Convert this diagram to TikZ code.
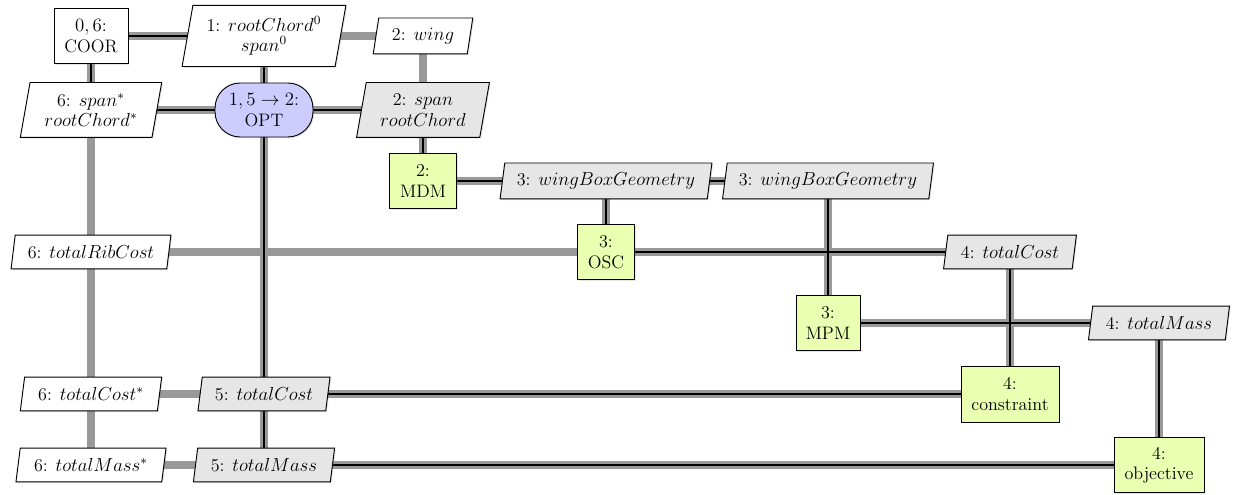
\documentclass[tikz,border=0pt]{standalone}
\usetikzlibrary{shapes.geometric,backgrounds,shadows}
\definecolor{funcfill}{RGB}{235,255,178}
\definecolor{optfill}{RGB}{204,204,255}
\definecolor{interfill}{RGB}{230,230,230}
\definecolor{dataline}{RGB}{153,153,153}
\tikzset{
  base/.style={draw, line width=0.6pt, align=center, inner sep=1pt,
    font=\fontsize{11.5}{13}\selectfont,
    drop shadow={shadow xshift=0.8pt, shadow yshift=-0.8pt, opacity=0.2}},
  funcbox/.style={base, rectangle, fill=funcfill, minimum height=35pt},
  coorbox/.style={base, rectangle, fill=white, minimum height=35pt},
  optbox/.style={base, rectangle, rounded corners=16pt, fill=optfill, minimum height=34.4pt},
  para/.style={base, trapezium, trapezium left angle=78, trapezium right angle=102,
    trapezium stretches=true},
  dataio/.style={para, fill=white},
  datainter/.style={para, fill=interfill},
  grayline/.style={draw=dataline, line width=5.2pt},
  blackline/.style={draw=black, line width=1.2pt},
}
\begin{document}
\begin{tikzpicture}[x=0.637pt, y=-0.637pt]
\useasboundingbox (0,0) rectangle (1233,495);
% row 0
\node[coorbox, minimum width=47.1pt] (coor) at (91,36) {$0, 6$:\\COOR};
\node[dataio, minimum width=105pt, minimum height=38.9pt] (rc0) at (264,36) {1: $rootChord^0$\\$span^0$};
\node[dataio, minimum width=63.7pt, minimum height=22.9pt] (wing) at (423,36) {2: $wing$};
% row 1
\node[dataio, minimum width=90.5pt, minimum height=35pt] (spanstar) at (91,110) {6: $span^*$\\$rootChord^*$};
\node[optbox, minimum width=62.4pt] (opt) at (264,110) {$1, 5 \rightarrow 2$:\\OPT};
\node[datainter, minimum width=84.7pt, minimum height=35pt] (spanrc) at (423,110) {2: $span$\\$rootChord$};
% row 2
\node[funcbox, minimum width=42.7pt] (mdm) at (423,181) {2:\\MDM};
\node[datainter, minimum width=135pt, minimum height=22.9pt] (wbga) at (606,181) {3: $wingBoxGeometry$};
\node[datainter, minimum width=134.4pt, minimum height=22.9pt] (wbgb) at (828,181) {3: $wingBoxGeometry$};
% row 3
\node[dataio, minimum width=102.6pt, minimum height=21.5pt] (ribcost) at (91,252) {6: $totalRibCost$};
\node[funcbox, minimum width=36.3pt] (osc) at (606,252) {3:\\OSC};
\node[datainter, minimum width=84.7pt, minimum height=21.5pt] (costfour) at (1010,252) {4: $totalCost$};
% row 4
\node[funcbox, minimum width=40.8pt] (mpm) at (828,323) {3:\\MPM};
\node[datainter, minimum width=90.5pt, minimum height=21.5pt] (massfour) at (1159,323) {4: $totalMass$};
% row 5
\node[dataio, minimum width=90.5pt, minimum height=21.5pt] (coststar) at (91,394) {6: $totalCost^*$};
\node[datainter, minimum width=84.7pt, minimum height=21.5pt] (costfive) at (264,394) {5: $totalCost$};
\node[funcbox, minimum width=62.4pt, minimum height=35.7pt] (constr) at (1010,394) {4:\\constraint};
% row 6
\node[dataio, minimum width=96.2pt, minimum height=21.5pt] (massstar) at (91,465) {6: $totalMass^*$};
\node[datainter, minimum width=90.5pt, minimum height=21.5pt] (massfive) at (264,465) {5: $totalMass$};
\node[funcbox, minimum width=57.3pt] (obj) at (1159,465) {4:\\objective};

\begin{pgfonlayer}{background}
% data (gray) lines
\path[grayline] (coor.center) -- (rc0.center) -- (wing.center);
\path[grayline] (coor.center) -- (spanstar.center) -- (ribcost.center) -- (coststar.center) -- (massstar.center);
\path[grayline] (rc0.center) -- (opt.center) -- (costfive.center) -- (massfive.center);
\path[grayline] (spanstar.center) -- (opt.center) -- (spanrc.center);
\path[grayline] (wing.center) -- (spanrc.center) -- (mdm.center);
\path[grayline] (mdm.center) -- (wbga.center) -- (wbgb.center);
\path[grayline] (wbga.center) -- (osc.center);
\path[grayline] (ribcost.center) -- (osc.center) -- (costfour.center);
\path[grayline] (wbgb.center) -- (mpm.center);
\path[grayline] (mpm.center) -- (massfour.center);
\path[grayline] (costfour.center) -- (constr.center);
\path[grayline] (massfour.center) -- (obj.center);
\path[grayline] (coststar.center) -- (costfive.center) -- (constr.center);
\path[grayline] (massstar.center) -- (massfive.center) -- (obj.center);
% process (black) lines
\path[blackline] (coor.center) -- (rc0.center);
\path[blackline] (coor.center) -- (spanstar.center);
\path[blackline] (rc0.center) -- (opt.center) -- (costfive.center) -- (massfive.center);
\path[blackline] (spanstar.center) -- (opt.center) -- (spanrc.center);
\path[blackline] (spanrc.center) -- (mdm.center);
\path[blackline] (mdm.center) -- (wbga.center) -- (wbgb.center);
\path[blackline] (wbga.center) -- (osc.center);
\path[blackline] (osc.center) -- (costfour.center);
\path[blackline] (wbgb.center) -- (mpm.center);
\path[blackline] (mpm.center) -- (massfour.center);
\path[blackline] (costfour.center) -- (constr.center);
\path[blackline] (massfour.center) -- (obj.center);
\path[blackline] (costfive.center) -- (constr.center);
\path[blackline] (massfive.center) -- (obj.center);
\end{pgfonlayer}
\end{tikzpicture}
\end{document}
